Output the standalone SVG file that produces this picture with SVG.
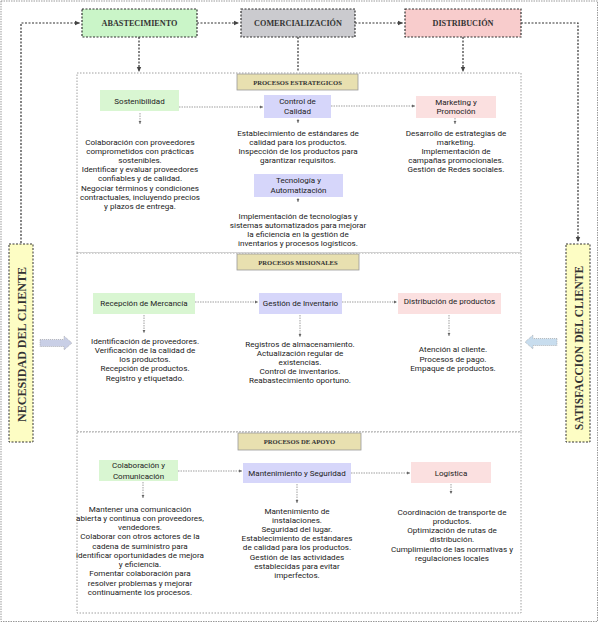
<svg xmlns="http://www.w3.org/2000/svg" width="599" height="623" viewBox="0 0 599 623">
<defs>
<marker id="ah" markerWidth="6" markerHeight="6" refX="5" refY="3" orient="auto" markerUnits="userSpaceOnUse"><path d="M0,0.8 L5,3 L0,5.2 z" fill="#444"/></marker>
<marker id="as" markerWidth="4" markerHeight="4" refX="3" refY="2" orient="auto" markerUnits="userSpaceOnUse"><path d="M0,0.6 L3,2 L0,3.4 z" fill="#666"/></marker>
</defs>
<style>
.top{stroke:#333;stroke-width:1.2;stroke-dasharray:2,1.5}
.toptx{font-family:"Liberation Serif",serif;font-weight:bold;font-size:8.2px;fill:#333;text-anchor:middle}
.sec{fill:#fff;stroke:#888;stroke-width:0.8;stroke-dasharray:1.5,1.5}
.tab{fill:#e8e0b0;stroke:#999;stroke-width:0.8}
.tabtx{font-family:"Liberation Serif",serif;font-weight:bold;font-size:6.6px;fill:#333;text-anchor:middle}
.g{fill:#d9f6d2}
.b{fill:#d6d6fa}
.p{fill:#fbe0e0}
.ntx{font-family:Roboto,"Liberation Sans",sans-serif;font-size:8px;fill:#222;text-anchor:middle}
.tx{font-family:Roboto,"Liberation Sans",sans-serif;font-size:8.1px;fill:#222;text-anchor:middle}
.side{fill:#fdfdc4;stroke:#333;stroke-width:1;stroke-dasharray:2,1.5}
.sidetx{font-family:"Liberation Serif",serif;font-weight:bold;font-size:12.5px;fill:#333;text-anchor:middle}
.c{fill:none;stroke:#333;stroke-width:1.2;stroke-dasharray:2,1.5}
.ci{fill:none;stroke:#777;stroke-width:0.7;stroke-dasharray:1.5,1}
</style>
<rect x="0" y="0" width="599" height="623" fill="#fff"/>
<rect x="1" y="1" width="596.5" height="620.5" fill="none" stroke="#999" stroke-width="1" stroke-dasharray="1.5,1"/>

<g id="sec-estrategicos"><rect class="sec" x="77" y="73" width="444" height="180"/></g>
<g id="sec-misionales"><rect class="sec" x="77" y="253" width="444" height="179"/></g>
<g id="sec-apoyo"><rect class="sec" x="77" y="432" width="444" height="181"/></g>

<g id="connectors">
<path class="c" d="M197,23 H239" marker-end="url(#ah)"/>
<path class="c" d="M355,23 H403" marker-end="url(#ah)"/>
<path class="c" d="M21,243 V23 H80" marker-end="url(#ah)"/>
<path class="c" d="M521,23 H578 V242" marker-end="url(#ah)"/>
<path class="c" d="M139,37 V72" marker-end="url(#ah)"/>
<path class="c" d="M298,37 V72"/>
<path class="c" d="M463,37 V72" marker-end="url(#ah)"/>
<path class="ci" d="M179,107 H263" marker-end="url(#as)"/>
<path class="ci" d="M331,106 H415" marker-end="url(#as)"/>
<path class="ci" d="M140,113 V124" marker-end="url(#as)"/>
<path class="ci" d="M298,119 V123" marker-end="url(#as)"/>
<path class="ci" d="M455,118 V124" marker-end="url(#as)"/>
<path class="ci" d="M298,198 V202" marker-end="url(#as)"/>
<path class="ci" d="M195,302 H258" marker-end="url(#as)"/>
<path class="ci" d="M342,302 H397" marker-end="url(#as)"/>
<path class="ci" d="M144,315 V333" marker-end="url(#as)"/>
<path class="ci" d="M300,315 V337" marker-end="url(#as)"/>
<path class="ci" d="M449,315 V336" marker-end="url(#as)"/>
<path class="ci" d="M178,471 H242" marker-end="url(#as)"/>
<path class="ci" d="M351,473 H410" marker-end="url(#as)"/>
<path class="ci" d="M143,482 V498" marker-end="url(#as)"/>
<path class="ci" d="M297,484 V503" marker-end="url(#as)"/>
<path class="ci" d="M451,484 V494" marker-end="url(#as)"/>
</g>

<g id="abastecimiento"><rect class="top" x="82" y="9" width="115" height="28" fill="#caf5c8"/><text class="toptx" x="139.5" y="26">ABASTECIMIENTO</text></g>
<g id="comercializacion"><rect class="top" x="241" y="9" width="114" height="28" fill="#cbcbcf"/><text class="toptx" x="298" y="26">COMERCIALIZACIÓN</text></g>
<g id="distribucion"><rect class="top" x="405" y="9" width="116" height="28" fill="#f8cccc"/><text class="toptx" x="463" y="26">DISTRIBUCIÓN</text></g>

<g id="tab-estrategicos"><rect class="tab" x="237" y="74" width="121" height="16"/><text class="tabtx" x="297.5" y="84.5">PROCESOS ESTRATEGICOS</text></g>
<g id="tab-misionales"><rect class="tab" x="237" y="254" width="122" height="16"/><text class="tabtx" x="298" y="264.5">PROCESOS MISIONALES</text></g>
<g id="tab-apoyo"><rect class="tab" x="238" y="433" width="123" height="17"/><text class="tabtx" x="299.5" y="444">PROCESOS DE APOYO</text></g>

<g id="sostenibilidad"><rect class="g" x="100" y="90" width="79" height="21"/><text class="ntx" x="139.5" y="104">Sostenibilidad</text>
<text class="tx"><tspan x="140" y="144.5">Colaboración con proveedores</tspan><tspan x="140" dy="9.2">comprometidos con prácticas</tspan><tspan x="140" dy="9.2">sostenibles.</tspan><tspan x="140" dy="9.2">Identificar y evaluar proveedores</tspan><tspan x="140" dy="9.2">confiables y de calidad.</tspan><tspan x="140" dy="9.2">Negociar términos y condiciones</tspan><tspan x="140" dy="9.2">contractuales, incluyendo precios</tspan><tspan x="140" dy="9.2">y plazos de entrega.</tspan></text></g>

<g id="control-calidad"><rect class="b" x="264" y="95" width="67" height="23"/><text class="ntx"><tspan x="297.5" y="104">Control de</tspan><tspan x="297.5" dy="9.5">Calidad</tspan></text>
<text class="tx"><tspan x="298" y="135.5">Establecimiento de estándares de</tspan><tspan x="298" dy="9.2">calidad para los productos.</tspan><tspan x="298" dy="9.2">Inspección de los productos para</tspan><tspan x="298" dy="9.2">garantizar requisitos.</tspan></text></g>

<g id="marketing"><rect class="p" x="416" y="96" width="80" height="22"/><text class="ntx"><tspan x="456" y="104.5">Marketing y</tspan><tspan x="456" dy="9.5">Promoción</tspan></text>
<text class="tx"><tspan x="456" y="135.5">Desarrollo de estrategias de</tspan><tspan x="456" dy="9.2">marketing.</tspan><tspan x="456" dy="9.2">Implementación de</tspan><tspan x="456" dy="9.2">campañas promocionales.</tspan><tspan x="456" dy="9.2">Gestión de Redes sociales.</tspan></text></g>

<g id="tecnologia"><rect class="b" x="254" y="174" width="89" height="23"/><text class="ntx"><tspan x="298.5" y="183">Tecnología y</tspan><tspan x="298.5" dy="9.5">Automatización</tspan></text>
<text class="tx"><tspan x="298" y="218.5">Implementación de tecnologías y</tspan><tspan x="298" dy="9.2">sistemas automatizados para mejorar</tspan><tspan x="298" dy="9.2">la eficiencia en la gestión de</tspan><tspan x="298" dy="9.2">inventarios y procesos logísticos.</tspan></text></g>

<g id="recepcion"><rect class="g" x="93" y="293" width="102" height="21"/><text class="ntx" x="144" y="306">Recepción de Mercancía</text>
<text class="tx"><tspan x="145" y="343.5">Identificación de proveedores.</tspan><tspan x="145" dy="9.3">Verificación de la calidad de</tspan><tspan x="145" dy="9.3">los productos.</tspan><tspan x="145" dy="9.3">Recepción de productos.</tspan><tspan x="145" dy="9.3">Registro y etiquetado.</tspan></text></g>

<g id="gestion-inventario"><rect class="b" x="259" y="293" width="83" height="21"/><text class="ntx" x="300.5" y="306">Gestión de Inventario</text>
<text class="tx"><tspan x="300" y="346.5">Registros de almacenamiento.</tspan><tspan x="300" dy="9.2">Actualización regular de</tspan><tspan x="300" dy="9.2">existencias.</tspan><tspan x="300" dy="9.2">Control de inventarios.</tspan><tspan x="300" dy="9.2">Reabastecimiento oportuno.</tspan></text></g>

<g id="distribucion-productos"><rect class="p" x="398" y="293" width="103" height="21"/><text class="ntx" x="449.5" y="304">Distribución de productos</text>
<text class="tx"><tspan x="453" y="352">Atención al cliente.</tspan><tspan x="453" dy="9.5">Procesos de pago.</tspan><tspan x="453" dy="9.5">Empaque de productos.</tspan></text></g>

<g id="colaboracion"><rect class="g" x="99" y="460" width="79" height="21"/><text class="ntx"><tspan x="138.5" y="468">Colaboración y</tspan><tspan x="138.5" dy="10.5">Comunicación</tspan></text>
<text class="tx"><tspan x="140" y="511.5">Mantener una comunicación</tspan><tspan x="140" dy="9.25">abierta y continua con proveedores,</tspan><tspan x="140" dy="9.25">vendedores.</tspan><tspan x="140" dy="9.25">Colaborar con otros actores de la</tspan><tspan x="140" dy="9.25">cadena de suministro para</tspan><tspan x="140" dy="9.25">identificar oportunidades de mejora</tspan><tspan x="140" dy="9.25">y eficiencia.</tspan><tspan x="140" dy="9.25">Fomentar colaboración para</tspan><tspan x="140" dy="9.25">resolver problemas y mejorar</tspan><tspan x="140" dy="9.25">continuamente los procesos.</tspan></text></g>

<g id="mantenimiento"><rect class="b" x="243" y="463" width="108" height="20"/><text class="ntx" x="297" y="476">Mantenimiento y Seguridad</text>
<text class="tx"><tspan x="297" y="513.5">Mantenimiento de</tspan><tspan x="297" dy="9.2">instalaciones.</tspan><tspan x="297" dy="9.2">Seguridad del lugar.</tspan><tspan x="297" dy="9.2">Establecimiento de estándares</tspan><tspan x="297" dy="9.2">de calidad para los productos.</tspan><tspan x="297" dy="9.2">Gestión de las actividades</tspan><tspan x="297" dy="9.2">establecidas para evitar</tspan><tspan x="297" dy="9.2">imperfectos.</tspan></text></g>

<g id="logistica"><rect class="p" x="411" y="462" width="80" height="21"/><text class="ntx" x="451" y="476">Logística</text>
<text class="tx"><tspan x="452" y="514.5">Coordinación de transporte de</tspan><tspan x="452" dy="9.3">productos.</tspan><tspan x="452" dy="9.3">Optimización de rutas de</tspan><tspan x="452" dy="9.3">distribución.</tspan><tspan x="452" dy="9.3">Cumplimiento de las normativas y</tspan><tspan x="452" dy="9.3">regulaciones locales</tspan></text></g>

<g id="necesidad"><rect class="side" x="9" y="244" width="24" height="198"/><text class="sidetx" transform="translate(25.5,344.5) rotate(-90)" x="0" y="0" textLength="155" lengthAdjust="spacingAndGlyphs">NECESIDAD DEL CLIENTE</text></g>
<g id="flecha-entrada"><path d="M40,339.5 H64 V336 L72,343 L64,350 V346.5 H40 z" fill="#c9cfe6" stroke="#999" stroke-width="0.6" stroke-dasharray="1,1"/></g>

<g id="satisfaccion"><rect class="side" x="566" y="244" width="24" height="198"/><text class="sidetx" transform="translate(582.5,348) rotate(-90)" x="0" y="0" textLength="164" lengthAdjust="spacingAndGlyphs">SATISFACCION DEL CLIENTE</text></g>
<g id="flecha-salida"><path d="M557,338.5 H533 V335 L525,342 L533,349 V345.5 H557 z" fill="#c8ddee" stroke="#999" stroke-width="0.6" stroke-dasharray="1,1"/></g>
</svg>
